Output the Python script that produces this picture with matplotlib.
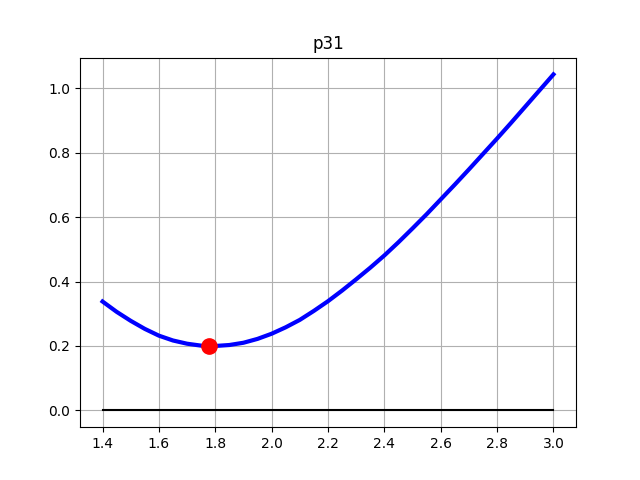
import numpy as np
import matplotlib
matplotlib.use("Agg")
import matplotlib.pyplot as plt

# valores
x_vals = [1.40, 1.45, 1.50, 1.55, 1.60, 1.65, 1.70, 1.75, 1.80, 1.85, 1.90, 1.95,
          2.00, 2.05, 2.10, 2.15, 2.20, 2.25, 2.30, 2.35, 2.40, 2.45, 2.50, 2.55,
          2.60, 2.65, 2.70, 2.75, 2.80, 2.85, 2.90, 2.95, 3.00]
y_vals = [0.338, 0.306, 0.278, 0.253, 0.232, 0.217, 0.207, 0.201, 0.200, 0.203, 0.210, 0.222,
          0.238, 0.258, 0.281, 0.309, 0.339, 0.372, 0.407, 0.443, 0.481, 0.522, 0.565, 0.609,
          0.655, 0.701, 0.748, 0.796, 0.844, 0.893, 0.943, 0.993, 1.043]
x_min, y_min = 1.778, 0.200
x_cero = [1.4, 3.0]
y_cero = [0.0, 0.0]

fig, ax = plt.subplots(figsize=(6.4, 4.8), dpi=100)
ax.plot(x_vals, y_vals, color='blue', linewidth=3)
ax.plot(x_cero, y_cero, color='black', linewidth=1.5)
ax.plot(x_min, y_min, 'o', color='red', markersize=11)
ax.set_title("p31")
ax.grid(True)
fig.savefig("out.png")
